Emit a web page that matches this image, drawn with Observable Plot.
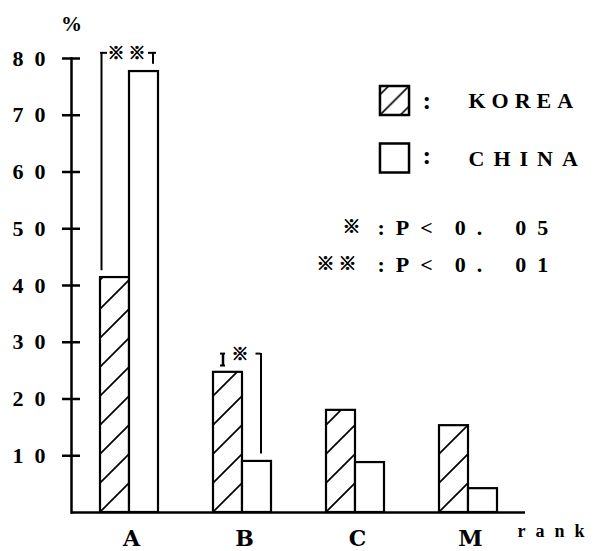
<!DOCTYPE html>
<html>
<head>
<meta charset="utf-8">
<script src="https://cdn.jsdelivr.net/npm/d3@7"></script>
<script src="https://cdn.jsdelivr.net/npm/@observablehq/plot@0.6"></script>
<style>
  body { margin: 0; background: #fff; }
  #chart svg { display: block; }
</style>
</head>
<body>
<div id="chart"></div>
<script>
// Share of respondents (%) by rank, Korea vs China
const ranks = ["A", "B", "C", "M"];
const korea = [41.4, 24.7, 18.0, 15.3];
const china = [77.7, 9.0, 8.8, 4.2];
const yTicks = [10, 20, 30, 40, 50, 60, 70, 80];
const seriesNames = ["KOREA", "CHINA"];
// significance of the Korea/China difference per rank
const sigRanks = ["A", "B"];
const sigMarks = ["※※", "※"];
const noteMarks = ["※", "※※"];
const noteLevels = ["0.05", "0.01"];

const rows = ranks.map((rank, i) => ({rank, korea: korea[i], china: china[i]}));
const sig = sigRanks.map((rank, i) => {
  const r = rows[ranks.indexOf(rank)];
  return {
    rank,
    label: sigMarks[i],
    left: r.korea + 1.2,
    right: r.china + 1.3,
    top: Math.max(r.korea, r.china) + 3.3
  };
});
const sigA = sig.filter(d => d.rank === "A");
const sigB = sig.filter(d => d.rank === "B");

const nb = n => "\u00a0".repeat(n);
// "P < 0. 0 5" set out with the wide typewriter spacing
const noteText = lvl => {
  const [a, b] = lvl.split(".");
  return ":" + nb(2) + "P" + nb(2) + "<" + nb(4) + a + nb(2) + "." + nb(6) + b[0] + nb(2) + b[1];
};
const spacedDigits = d => String(d).split("").join("\u2002");

const serif = "'Liberation Serif', 'DejaVu Serif', serif";
const cjk = "'Noto Sans CJK JP', 'DejaVu Sans', sans-serif";
const W = 600, H = 551;
const mL = 71, mR = 75, mT = 58, mB = 39;
const half = 29;
// heavier reference marks
const star = {fontFamily: cjk, fontWeight: "bold", stroke: "#000", strokeWidth: 0.7, fill: "#000"};

const chart = Plot.plot({
  width: W,
  height: H,
  marginLeft: mL,
  marginRight: mR,
  marginTop: mT,
  marginBottom: mB,
  style: {background: "#fff", color: "#000", fontFamily: serif},
  x: {domain: ranks, paddingInner: 0.487, paddingOuter: 0.252, label: null},
  y: {domain: [0, 80], label: null},
  marks: [
    // bars: Korea (hatched) left half of each band, China (open) right half
    Plot.barY(rows, {x: "rank", y: "korea", insetRight: half, fill: "url(#hatch-key)", stroke: "#000", strokeWidth: 2.2}),
    Plot.barY(rows, {x: "rank", y: "china", insetLeft: half, fill: "#fff", stroke: "#000", strokeWidth: 2.2}),

    // axes
    Plot.frame({anchor: "left", stroke: "#000", strokeWidth: 2.5}),
    Plot.ruleY([0], {stroke: "#000", strokeWidth: 2.5}),
    Plot.axisY({
      ticks: yTicks, tickSize: 18, dx: 9, tickPadding: 17,
      tickFormat: spacedDigits, strokeWidth: 2.5,
      fontSize: 22, fontWeight: "bold", fontFamily: serif, label: null
    }),
    Plot.axisX({
      tickSize: 0, tickPadding: 18, dx: 2,
      fontSize: 22, fontWeight: "bold", fontFamily: "'DejaVu Serif', serif", label: null
    }),
    Plot.text(["%"], {text: d => d, frameAnchor: "top-left", dx: -10.5, dy: -34.5, fontSize: 21, fontWeight: "bold", fontFamily: serif, lineAnchor: "middle"}),
    Plot.text(["rank"], {text: d => d, frameAnchor: "bottom-right", dx: -8, dy: 19, fontSize: 18, fontWeight: "bold", fontFamily: serif, textAnchor: "start", lineAnchor: "middle"}),

    // significance brackets, rank A
    Plot.ruleX(sigA, {x: "rank", y1: "left", y2: "top", dx: -28, strokeWidth: 2}),
    Plot.ruleX(sigA, {x: "rank", y1: "right", y2: "top", dx: 23.5, strokeWidth: 2}),
    Plot.tickY(sigA, {x: "rank", y: "top", insetLeft: 0, insetRight: 51, strokeWidth: 2}),
    Plot.tickY(sigA, {x: "rank", y: "top", insetLeft: 48, insetRight: 2, strokeWidth: 2}),
    Plot.text(sigA, {x: "rank", y: "top", text: "label", dx: -1, dy: 1, fontSize: 17, lineAnchor: "middle", ...star}),
    // significance brackets, rank B
    Plot.ruleX(sigB, {x: "rank", y1: "left", y2: "top", dx: -19.5, strokeWidth: 2.5}),
    Plot.tickY(sigB, {x: "rank", y: "top", insetLeft: 7, insetRight: 46, strokeWidth: 2}),
    Plot.tickY(sigB, {x: "rank", y: "left", insetLeft: 7, insetRight: 46, strokeWidth: 2}),
    Plot.ruleX(sigB, {x: "rank", y1: "right", y2: "top", dx: 18.5, strokeWidth: 2}),
    Plot.tickY(sigB, {x: "rank", y: "top", insetLeft: 42.5, insetRight: 10.5, strokeWidth: 2}),
    Plot.text(sigB, {x: "rank", y: "top", text: "label", dx: -2.5, dy: 1, fontSize: 17, lineAnchor: "middle", ...star}),

    // key
    Plot.dot([seriesNames[0]], {frameAnchor: "top-left", dx: 323, dy: 42, symbol: "square", r: 16.4, fill: "url(#hatch-key)", stroke: "#000", strokeWidth: 2.5}),
    Plot.dot([seriesNames[1]], {frameAnchor: "top-left", dx: 323, dy: 99.5, symbol: "square", r: 16.4, fill: "#fff", stroke: "#000", strokeWidth: 2.5}),
    Plot.text([":"], {text: d => d, frameAnchor: "top-left", dx: 351, dy: 42, fontSize: 26, fontWeight: "bold", fontFamily: serif, lineAnchor: "middle"}),
    Plot.text([":"], {text: d => d, frameAnchor: "top-left", dx: 351, dy: 97, fontSize: 26, fontWeight: "bold", fontFamily: serif, lineAnchor: "middle"}),
    Plot.text([seriesNames[0]], {text: d => d, frameAnchor: "top-left", dx: 397, dy: 42, fontSize: 22, fontWeight: "bold", fontFamily: serif, textAnchor: "start", lineAnchor: "middle"}),
    Plot.text([seriesNames[1]], {text: d => d, frameAnchor: "top-left", dx: 397, dy: 100, fontSize: 22, fontWeight: "bold", fontFamily: serif, textAnchor: "start", lineAnchor: "middle"}),
    Plot.text([noteMarks[0]], {text: d => d, frameAnchor: "top-left", dx: 289, dy: 169, fontSize: 18, textAnchor: "end", lineAnchor: "middle", ...star}),
    Plot.text([noteMarks[1]], {text: d => d, frameAnchor: "top-left", dx: 289, dy: 206, fontSize: 18, textAnchor: "end", lineAnchor: "middle", ...star}),
    Plot.text([noteLevels[0]], {text: noteText, frameAnchor: "top-left", dx: 306, dy: 169, fontSize: 22, fontWeight: "bold", fontFamily: serif, textAnchor: "start", lineAnchor: "middle"}),
    Plot.text([noteLevels[1]], {text: noteText, frameAnchor: "top-left", dx: 306, dy: 206, fontSize: 22, fontWeight: "bold", fontFamily: serif, textAnchor: "start", lineAnchor: "middle"})
  ]
});

// hatch fills: one for the key glyph, and one per Korea bar anchored at its lower-left corner
const svg = d3.select(chart);
const defs = svg.insert("defs", ":first-child");
const key = defs.append("pattern")
  .attr("id", "hatch-key")
  .attr("patternUnits", "objectBoundingBox")
  .attr("patternContentUnits", "objectBoundingBox")
  .attr("width", 1).attr("height", 1);
key.append("path")
  .attr("d", "M0,1L1,0M0,0.3L0.3,0M0.7,1L1,0.7")
  .attr("fill", "none").attr("stroke", "#000").attr("stroke-width", 0.055);

const step = 29;
svg.select('g[aria-label="bar"]').selectAll("rect").each(function(_, i) {
  const r = d3.select(this);
  const x = +r.attr("x"), y = +r.attr("y"), h = +r.attr("height");
  const id = "hatch-bar-" + i;
  const p = defs.append("pattern")
    .attr("id", id)
    .attr("patternUnits", "userSpaceOnUse")
    .attr("x", x).attr("y", y + h)
    .attr("width", step).attr("height", step);
  p.append("path")
    .attr("d", `M-4,${step + 4}L${step + 4},-4M-4,4L4,-4M${step - 4},${step + 4}L${step + 4},${step - 4}`)
    .attr("fill", "none").attr("stroke", "#000").attr("stroke-width", 1.7);
  r.attr("fill", `url(#${id})`);
});

// letter spacing of the wide-set labels
const spacing = {"KOREA": 6, "CHINA": 9, "rank": 10, "※※": 4};
svg.selectAll("text").each(function() {
  const s = spacing[this.textContent];
  if (s != null) this.setAttribute("letter-spacing", s);
});

document.getElementById("chart").append(chart);
</script>
</body>
</html>
